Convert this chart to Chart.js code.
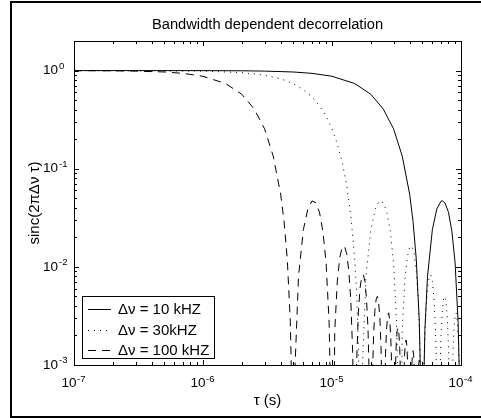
<!DOCTYPE html>
<html>
<head>
<meta charset="utf-8">
<script src="https://cdn.jsdelivr.net/npm/chart.js@4.4.1/dist/chart.umd.min.js"></script>
<style>
  body { margin: 0; background: #fff; }
  #wrap { width: 481px; height: 418px; }
</style>
</head>
<body>
<div id="wrap"><canvas id="c" width="481" height="418"></canvas></div>
<script>
// values (tau in seconds, curve value on log axis)
const tau10 = [1e-7, 1e-6, 2e-6, 3e-6, 5e-6, 7e-6, 1e-5, 1.5e-5, 2e-5, 2.5e-5, 3e-5, 3.5e-5, 4e-5, 4.25e-5, 4.5e-5, 4.75e-5, 4.9e-5, 5e-5,
  5.1e-5, 5.25e-5, 5.5e-5, 6e-5, 6.5e-5, 7e-5, 7.15e-5, 7.5e-5, 8e-5, 8.5e-5, 9e-5, 9.5e-5, 9.75e-5, 1e-4];
const sinc10 = [1, 0.999, 0.995, 0.988, 0.968, 0.937, 0.875, 0.738, 0.573, 0.405, 0.255, 0.135, 0.055, 0.029, 0.012, 0.0028, 0.00042, 1e-6,
  0.00038, 0.0023, 0.008, 0.024, 0.039, 0.0467, 0.0472, 0.045, 0.036, 0.023, 0.011, 0.0027, 0.00065, 1e-6];

const tau30 = [1e-7, 1e-6, 2e-6, 3e-6, 4e-6, 5e-6, 6e-6, 7e-6, 8e-6, 9e-6,
  1e-5, 1.1e-5, 1.2e-5, 1.3e-5, 1.4e-5, 1.5e-5, 1.55e-5, 1.6e-5, 1.64e-5, 1.667e-5,
  1.717e-5, 1.833e-5, 2.0e-5, 2.167e-5, 2.333e-5, 2.5e-5, 2.667e-5, 2.833e-5, 3.0e-5, 3.167e-5, 3.283e-5, 3.333e-5,
  3.5e-5, 3.667e-5, 3.833e-5, 4.0e-5, 4.167e-5, 4.333e-5, 4.5e-5, 4.667e-5, 4.833e-5, 5.0e-5,
  5.167e-5, 5.333e-5, 5.5e-5, 5.667e-5, 5.833e-5, 6.0e-5, 6.167e-5, 6.333e-5, 6.5e-5, 6.667e-5,
  6.833e-5, 7.0e-5, 7.167e-5, 7.333e-5, 7.5e-5, 7.667e-5, 7.833e-5, 8.0e-5, 8.167e-5, 8.333e-5,
  8.5e-5, 8.667e-5, 8.833e-5, 9.0e-5, 9.167e-5, 9.333e-5, 9.5e-5, 9.667e-5, 9.833e-5, 1e-4];
const sinc30 = [1, 0.988, 0.953, 0.898, 0.824, 0.737, 0.64, 0.539, 0.438, 0.342,
  0.255, 0.179, 0.116, 0.068, 0.033, 0.012, 0.0056, 0.0017, 0.00026, 1e-6,
  0.00085, 0.008, 0.024, 0.039, 0.047, 0.045, 0.036, 0.023, 0.011, 0.0027, 0.00023, 1e-6,
  0.0022, 0.0072, 0.0125, 0.0159, 0.0162, 0.0136, 0.0091, 0.0045, 0.0012, 1e-6,
  0.001, 0.0034, 0.0061, 0.0079, 0.0083, 0.0071, 0.0048, 0.0024, 0.00064, 1e-6,
  0.00058, 0.002, 0.0036, 0.0047, 0.005, 0.0043, 0.003, 0.0015, 0.0004, 1e-6,
  0.00037, 0.0013, 0.0024, 0.0031, 0.0034, 0.0029, 0.002, 0.001, 0.00028, 1e-6];

const tau100 = [1e-7, 2e-7, 3e-7, 5e-7, 7e-7, 1e-6, 1.5e-6, 2e-6, 2.5e-6, 3e-6, 3.5e-6, 4e-6, 4.25e-6, 4.5e-6, 4.75e-6, 4.9e-6, 5e-6,
  5.15e-6, 5.5e-6, 6e-6, 6.5e-6, 7e-6, 7.5e-6, 8e-6, 8.5e-6, 9e-6, 9.5e-6, 9.85e-6, 1e-5,
  1.05e-5, 1.1e-5, 1.15e-5, 1.2e-5, 1.25e-5, 1.3e-5, 1.35e-5, 1.4e-5, 1.45e-5, 1.5e-5,
  1.55e-5, 1.6e-5, 1.65e-5, 1.7e-5, 1.75e-5, 1.8e-5, 1.85e-5, 1.9e-5, 1.95e-5, 2e-5,
  2.05e-5, 2.1e-5, 2.15e-5, 2.2e-5, 2.25e-5, 2.3e-5, 2.35e-5, 2.4e-5, 2.45e-5, 2.5e-5,
  2.55e-5, 2.6e-5, 2.65e-5, 2.7e-5, 2.75e-5, 2.8e-5, 2.85e-5, 2.9e-5, 2.95e-5, 3e-5,
  3.05e-5, 3.1e-5, 3.15e-5, 3.2e-5, 3.25e-5, 3.3e-5, 3.35e-5, 3.4e-5, 3.45e-5, 3.5e-5,
  3.55e-5, 3.6e-5, 3.65e-5, 3.7e-5, 3.75e-5, 3.8e-5, 3.85e-5, 3.9e-5, 3.95e-5, 4e-5,
  4.05e-5, 4.1e-5, 4.15e-5, 4.2e-5, 4.25e-5, 4.3e-5, 4.35e-5, 4.4e-5, 4.45e-5, 4.5e-5,
  4.55e-5, 4.6e-5, 4.65e-5, 4.7e-5, 4.75e-5, 4.8e-5, 4.85e-5, 4.9e-5, 4.95e-5, 5e-5,
  1e-4];
const sinc100 = [0.999, 0.995, 0.988, 0.968, 0.937, 0.875, 0.737, 0.573, 0.405, 0.255, 0.135, 0.055, 0.029, 0.012, 0.0028, 0.00042, 1e-6,
  0.00085, 0.008, 0.024, 0.039, 0.047, 0.045, 0.036, 0.023, 0.011, 0.0027, 0.00023, 1e-6,
  0.0022, 0.0072, 0.0125, 0.0159, 0.0162, 0.0136, 0.0091, 0.0045, 0.0012, 1e-6,
  0.001, 0.0034, 0.0061, 0.0079, 0.0083, 0.0071, 0.0048, 0.0024, 0.00064, 1e-6,
  0.00058, 0.002, 0.0036, 0.0047, 0.005, 0.0043, 0.003, 0.0015, 0.0004, 1e-6,
  0.00037, 0.0013, 0.0024, 0.0031, 0.0034, 0.0029, 0.002, 0.001, 0.00028, 1e-6,
  0.00026, 0.00091, 0.00167, 0.00224, 0.0024, 0.0021, 0.00148, 0.00076, 0.0002, 1e-6,
  0.00019, 0.00068, 0.00124, 0.00167, 0.0018, 0.00159, 0.00112, 0.00058, 0.00015, 1e-6,
  0.00015, 0.00052, 0.00096, 0.0013, 0.0014, 0.00124, 0.00088, 0.00045, 0.00012, 1e-6,
  0.00012, 0.00041, 0.00077, 0.00104, 0.00112, 0.00099, 0.00071, 0.00036, 0.0001, 1e-6,
  1e-6];

// tick labels are 10 with a raised exponent
const xDecades = [-7, -6, -5, -4];
const yDecades = [-3, -2, -1, 0];

const seriesLabels = ['\u0394\u03bd = 10 kHZ', '\u0394\u03bd = 30kHZ', '\u0394\u03bd = 100 kHZ'];
const xTitle = '\u03c4 (s)';
const yTitle = 'sinc(2\u03c0\u0394\u03bd \u03c4)';
const chartTitle = 'Bandwidth dependent decorrelation';

const FONT = '"Liberation Sans", Arial, sans-serif';

function isDecade(v, decades) {
  const e = Math.log10(v);
  return Math.abs(e - Math.round(e)) < 1e-6 && decades.includes(Math.round(e));
}

function toPoints(xs, ys) {
  return xs.map((x, i) => ({ x: x, y: ys[i] }));
}

// outer figure border, plot box and inward ticks on all four sides
const axesBox = {
  id: 'axesBox',
  beforeDraw(chart) {
    const ctx = chart.ctx;
    ctx.save();
    ctx.strokeStyle = '#000';
    ctx.lineWidth = 2;
    ctx.strokeRect(11, 2, 490, 415);
    ctx.restore();
  },
  afterDatasetsDraw(chart) {
    const { ctx, chartArea: a, scales: { x, y } } = chart;
    ctx.save();
    ctx.strokeStyle = '#000';
    ctx.lineWidth = 1;
    ctx.beginPath();
    for (let d = -7; d <= -4; d++) {
      for (let m = 1; m <= 9; m++) {
        const v = m * Math.pow(10, d);
        if (v > 1.0001e-4) break;
        const px = Math.round(x.getPixelForValue(v)) + 0.5;
        const len = m === 1 ? 5 : 3;
        ctx.moveTo(px, a.bottom); ctx.lineTo(px, a.bottom - len);
        ctx.moveTo(px, a.top); ctx.lineTo(px, a.top + len);
      }
    }
    for (let d = -3; d <= 0; d++) {
      for (let m = 1; m <= 9; m++) {
        const v = m * Math.pow(10, d);
        if (v > 2.0001) break;
        const py = Math.round(y.getPixelForValue(v)) + 0.5;
        const len = m === 1 ? 5 : 3;
        ctx.moveTo(a.left, py); ctx.lineTo(a.left + len, py);
        ctx.moveTo(a.right, py); ctx.lineTo(a.right - len, py);
      }
    }
    ctx.stroke();
    ctx.strokeRect(Math.round(a.left) + 0.5, Math.round(a.top) + 0.5,
      Math.round(a.right - a.left), Math.round(a.bottom - a.top));
    ctx.restore();
  },
  afterDraw(chart) {
    // exponents next to the "10" tick labels
    const { ctx, chartArea: a, scales: { x, y } } = chart;
    ctx.save();
    ctx.fillStyle = '#000';
    ctx.font = '9.5px ' + FONT;
    ctx.textAlign = 'left';
    ctx.textBaseline = 'alphabetic';
    xDecades.forEach(d => {
      ctx.fillText(String(d), x.getPixelForValue(Math.pow(10, d)) + 3, a.bottom + 17);
    });
    yDecades.forEach(d => {
      ctx.fillText(String(d), a.left - 15, y.getPixelForValue(Math.pow(10, d)) - 2);
    });
    ctx.restore();
  }
};

// boxed legend in the lower left corner, like the original
const boxLegend = {
  id: 'boxLegend',
  afterDraw(chart) {
    const ctx = chart.ctx;
    const x0 = 82.5, y0 = 296.5, w = 132, h = 62;
    ctx.save();
    ctx.fillStyle = '#fff';
    ctx.fillRect(x0, y0, w, h);
    ctx.strokeStyle = '#000';
    ctx.lineWidth = 1;
    ctx.strokeRect(x0, y0, w, h);
    ctx.font = '15px ' + FONT;
    ctx.textBaseline = 'middle';
    chart.data.datasets.forEach((ds, i) => {
      const ry = Math.round(y0 + 12.5 + i * 20.5) + 0.5;
      ctx.strokeStyle = ds.borderColor;
      ctx.setLineDash(ds.borderDash || []);
      ctx.beginPath();
      ctx.moveTo(88, ry);
      ctx.lineTo(111, ry);
      ctx.stroke();
      ctx.setLineDash([]);
      ctx.fillStyle = '#000';
      ctx.fillText(ds.label, 118, ry);
    });
    ctx.restore();
  }
};

new Chart(document.getElementById('c'), {
  type: 'line',
  data: {
    datasets: [
      { label: seriesLabels[0], data: toPoints(tau10, sinc10), borderColor: '#000', borderWidth: 1 },
      { label: seriesLabels[1], data: toPoints(tau30, sinc30), borderColor: '#000', borderWidth: 1, borderDash: [1, 5] },
      { label: seriesLabels[2], data: toPoints(tau100, sinc100), borderColor: '#000', borderWidth: 1, borderDash: [8, 6] }
    ]
  },
  options: {
    responsive: false,
    animation: false,
    devicePixelRatio: 1,
    elements: { point: { radius: 0 }, line: { tension: 0 } },
    layout: { padding: { left: 12, right: 20, top: 0, bottom: 0 } },
    plugins: {
      legend: { display: false },
      tooltip: { enabled: false },
      title: {
        display: true,
        text: chartTitle,
        fullSize: false,
        color: '#000',
        font: { family: FONT, size: 14.7, weight: 'normal', lineHeight: 1.2 },
        padding: { top: 16, bottom: 7.4 }
      }
    },
    scales: {
      x: {
        type: 'logarithmic',
        min: 1e-7,
        max: 1e-4,
        grid: { display: false, drawTicks: false },
        border: { display: false },
        ticks: {
          autoSkip: false,
          maxRotation: 0,
          color: '#000',
          padding: 10,
          labelOffset: -5,
          font: { family: FONT, size: 13.5 },
          callback: v => isDecade(v, xDecades) ? '10' : ''
        },
        title: {
          display: true,
          text: xTitle,
          color: '#000',
          font: { family: FONT, size: 15, lineHeight: 1.2 },
          padding: { top: 0, bottom: 8 }
        },
        afterFit: s => { s.height = 53; }
      },
      y: {
        type: 'logarithmic',
        min: 1e-3,
        max: 2,
        grid: { display: false, drawTicks: false },
        border: { display: false },
        ticks: {
          autoSkip: false,
          color: '#000',
          padding: 16,
          font: { family: FONT, size: 13.5 },
          callback: v => isDecade(v, yDecades) ? '10' : ''
        },
        title: {
          display: true,
          text: yTitle,
          color: '#000',
          font: { family: FONT, size: 15, lineHeight: 1.2 },
          padding: { top: 14, bottom: 0 }
        },
        afterFit: s => { s.width = 62; }
      }
    }
  },
  plugins: [axesBox, boxLegend]
});
</script>
</body>
</html>
